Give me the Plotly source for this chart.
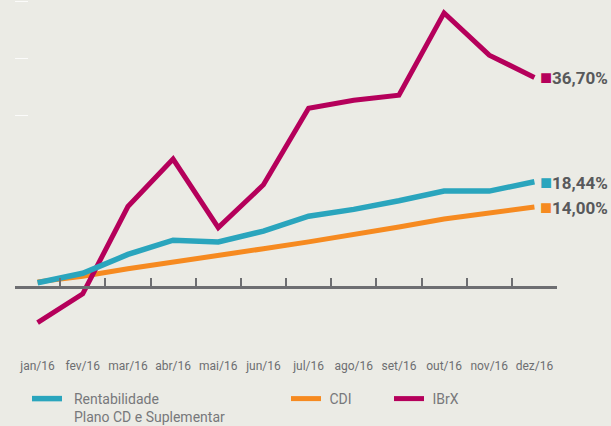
import plotly.graph_objects as go

months = ["jan/16", "fev/16", "mar/16", "abr/16", "mai/16", "jun/16",
          "jul/16", "ago/16", "set/16", "out/16", "nov/16", "dez/16"]
plano = [0.75, 2.4, 5.7, 8.2, 7.9, 9.8, 12.4, 13.6, 15.1, 16.8, 16.8, 18.44]
cdi = [0.9, 1.9, 3.2, 4.3, 5.4, 6.7, 7.9, 9.1, 10.5, 11.9, 12.9, 14.00]
ibrx = [-6.25, -1.2, 14.1, 22.4, 10.4, 17.9, 31.3, 32.7, 33.6, 48.0, 40.6, 36.70]

NB = "\u00a0"
names = [f"{NB}{NB}Rentabilidade<br>{NB}{NB}Plano CD e Suplementar", f"{NB}CDI", f"{NB}IBrX"]
colors = ["#2aa5bd", "#f68a20", "#b5005b"]

BG = "#ebebe5"
GRAY = "#6d6e71"
FONT = "Roboto"

idx = list(range(len(months)))

fig = go.Figure()
# drawing order: CDI, IBrX, Plano (teal on top)
fig.add_trace(go.Scatter(x=idx, y=cdi, mode="lines", name=names[1],
                         line=dict(color=colors[1], width=5), legend="legend2"))
fig.add_trace(go.Scatter(x=idx, y=ibrx, mode="lines", name=names[2],
                         line=dict(color=colors[2], width=5), legend="legend3"))
fig.add_trace(go.Scatter(x=idx, y=plano, mode="lines", name=names[0],
                         line=dict(color=colors[0], width=5.5), legend="legend",
                         showlegend=True))
# carrier for the zero-baseline axis
fig.add_trace(go.Scatter(x=[], y=[], xaxis="x2", showlegend=False, hoverinfo="skip"))

def fmt(v):
    return f"{v:.2f}".replace(".", ",") + "%"

for series, c in ((ibrx, colors[2]), (plano, colors[0]), (cdi, colors[1])):
    fig.add_annotation(
        x=idx[-1], y=series[-1], xref="x", yref="y",
        xanchor="left", yanchor="middle", xshift=4, showarrow=False,
        text=f'<span style="color:{c};font-size:20px">■</span><b>{fmt(series[-1])}</b>',
        font=dict(family=FONT, size=17, color="#58595b"),
    )

yr = [-11.38, 50.26]
xr = [-0.5, len(months) - 0.5]
legend_common = dict(orientation="h", xref="container", yref="container",
                     yanchor="top", xanchor="left", bgcolor="rgba(0,0,0,0)",
                     font=dict(family=FONT, size=14, color="#77787b"),
                     valign="top", itemwidth=30, visible=True)

fig.update_layout(
    width=611, height=426,
    showlegend=True,
    margin=dict(l=15, r=54, t=0, b=74),
    paper_bgcolor=BG, plot_bgcolor=BG,
    font=dict(family=FONT, color=GRAY),
    xaxis=dict(range=xr, tickmode="array", tickvals=idx, ticktext=months,
               showline=False, showgrid=False, zeroline=False, ticks="",
               tickfont=dict(family=FONT, size=12, color=GRAY),
               ticklabelstandoff=5),
    xaxis2=dict(range=xr, overlaying="x", anchor="free",
                position=(0 - yr[0]) / (yr[1] - yr[0]),
                showline=True, linecolor=GRAY, linewidth=3,
                tickmode="array", tickvals=[i - 0.5 for i in range(len(months) + 1)],
                ticks="inside", ticklen=8, tickwidth=2, tickcolor=GRAY,
                showticklabels=False, showgrid=False, zeroline=False),
    yaxis=dict(range=yr, showline=False, showgrid=False, zeroline=False,
               showticklabels=False, tickmode="array", tickvals=[30, 40, 50],
               ticks="inside", ticklen=13, tickwidth=1,
               tickcolor="rgba(255,255,255,0.8)"),
    legend=dict(x=27 / 611, y=1 - 383 / 426, **legend_common),
    legend2=dict(x=286 / 611, y=1 - 383 / 426, **legend_common),
    legend3=dict(x=389 / 611, y=1 - 383 / 426, **legend_common),
)

fig.write_html("out.html", config={"displayModeBar": False},
               post_script="document.body.style.margin='0px';")
